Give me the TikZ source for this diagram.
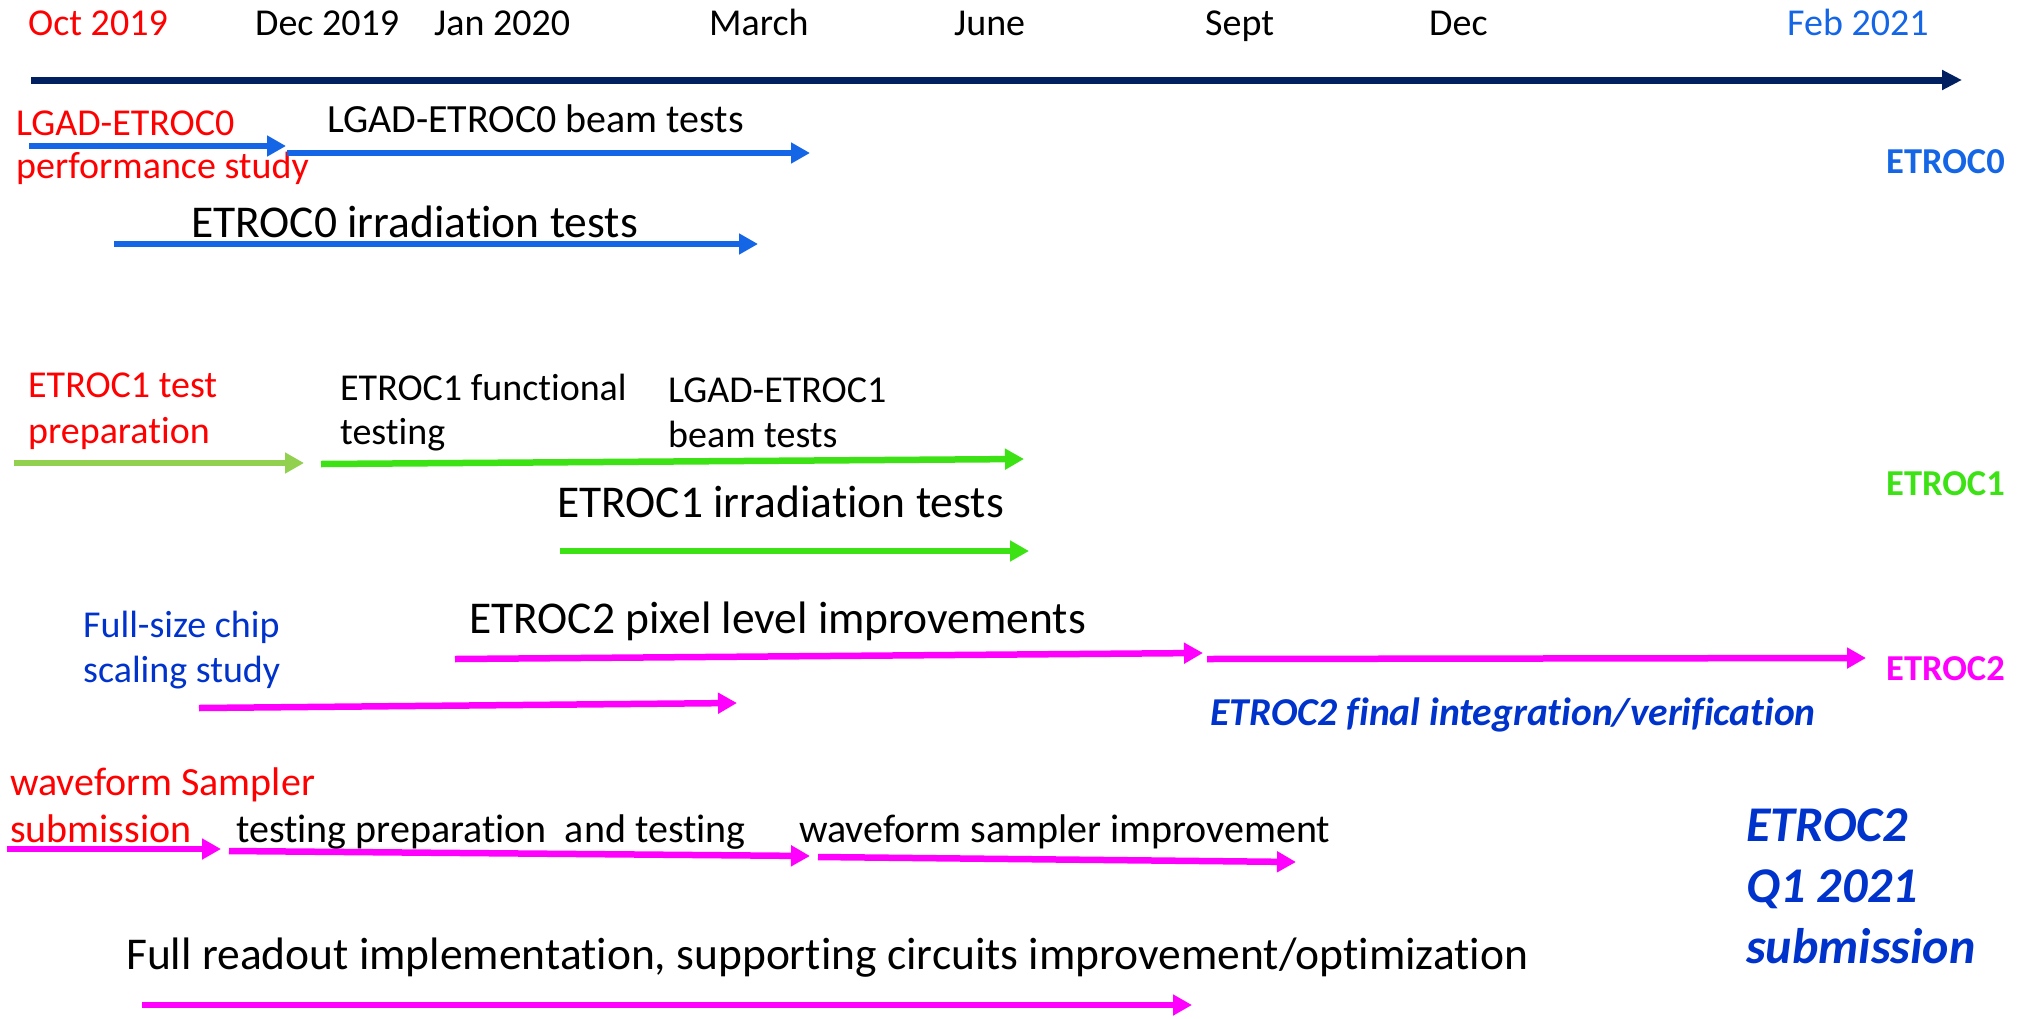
\documentclass[tikz,border=0pt]{standalone}
\usepackage{fontspec}
\setmainfont{Carlito}[Ligatures=NoCommon]
\usetikzlibrary{arrows.meta}
\definecolor{navy}{RGB}{0,32,96}
\definecolor{ablue}{RGB}{20,102,230}
\definecolor{lblue}{RGB}{0,51,204}
\definecolor{agreen}{RGB}{60,226,20}
\definecolor{lgreen}{RGB}{146,208,80}
\definecolor{lred}{RGB}{255,0,0}
\definecolor{mag}{RGB}{255,0,255}
\tikzset{
  lbl/.style={anchor=base west, inner sep=0pt, font=\fontsize{38}{46}\selectfont},
  lblw/.style={anchor=base west, inner sep=0pt, font=\fontsize{40}{48}\selectfont},
  big/.style={anchor=base west, inner sep=0pt, font=\fontsize{45.5}{54}\selectfont},
  tag/.style={anchor=base west, inner sep=0pt, font=\fontsize{36.5}{44}\selectfont\bfseries},
  bar/.style={line width=6.5pt, -{Triangle[length=19pt,width=20pt]}},
}
\begin{document}
\begin{tikzpicture}[x=1pt,y=-1pt]
\useasboundingbox (0,0) rectangle (2030,1018);
% timeline
\node[lbl, text=lred] (m1) at (28,35) {Oct 2019};
\node[lbl] (m2) at (255,35) {Dec 2019};
\node[lbl] (m3) at (434,35) {Jan 2020};
\node[lbl] (m4) at (709,35) {March};
\node[lbl] (m5) at (954,35) {June};
\node[lbl] (m6) at (1205,35) {Sept};
\node[lbl] (m7) at (1429,35) {Dec};
\node[lbl, text=ablue] (m8) at (1787,35) {Feb 2021};
\coordinate (t0) at (31,80);
\coordinate (t1) at (1962,80);
\draw[navy, line width=7pt, -{Triangle[length=20pt,width=19pt]}] (t0) -- (t1);

% ETROC0
\node[lbl, text=lred] (a1) at (16,135) {LGAD-ETROC0};
\node[lbl, text=lred] (a2) at (16,178) {performance study};
\node[lblw] (a3) at (327,132) {LGAD-ETROC0 beam tests};
\node[big] (a4) at (191,237) {ETROC0 irradiation tests};
\node[tag, text=ablue] (a5) at (1886,173) {ETROC0};
\coordinate (a1s) at (29,146); \coordinate (a1e) at (286,146);
\coordinate (a2s) at (287,153); \coordinate (a2e) at (810,153);
\coordinate (a3s) at (114,244); \coordinate (a3e) at (758,244);
\draw[bar, ablue] (a1s) -- (a1e);
\draw[bar, ablue] (a2s) -- (a2e);
\draw[bar, ablue] (a3s) -- (a3e);

% ETROC1
\node[lbl, text=lred] (b1) at (28,397) {ETROC1 test};
\node[lbl, text=lred] (b2) at (28,443) {preparation};
\node[lbl] (b3) at (340,400) {ETROC1 functional};
\node[lbl] (b4) at (340,444) {testing};
\node[lbl] (b5) at (668,402) {LGAD-ETROC1};
\node[lbl] (b6) at (668,447) {beam tests};
\node[big] (b7) at (557,517) {ETROC1 irradiation tests};
\node[tag, text=agreen] (b8) at (1886,495) {ETROC1};
\coordinate (b1s) at (14,463); \coordinate (b1e) at (304,463);
\coordinate (b2s) at (321,464); \coordinate (b2e) at (1024,459);
\coordinate (b3s) at (560,551); \coordinate (b3e) at (1029,551);
\draw[bar, lgreen] (b1s) -- (b1e);
\draw[bar, agreen] (b2s) -- (b2e);
\draw[bar, agreen] (b3s) -- (b3e);

% ETROC2
\node[lbl, text=lblue] (c1) at (83,637) {Full-size chip};
\node[lbl, text=lblue] (c2) at (83,682) {scaling study};
\node[big] (c3) at (469,633) {ETROC2 pixel level improvements};
\node[tag, text=mag] (c4) at (1886,680) {ETROC2};
\node[lbl, font=\fontsize{39.5}{46}\selectfont\bfseries\itshape, text=lblue] (c5) at (1210,725) {ETROC2 final integration/verification};
\coordinate (c1s) at (455,659); \coordinate (c1e) at (1203,653);
\coordinate (c2s) at (1207,659); \coordinate (c2e) at (1866,658);
\coordinate (c3s) at (199,708); \coordinate (c3e) at (737,703);
\draw[bar, mag] (c1s) -- (c1e);
\draw[bar, mag] (c2s) -- (c2e);
\draw[bar, mag] (c3s) -- (c3e);

% waveform sampler
\node[lblw, text=lred] (d1) at (10,795) {waveform Sampler};
\node[lblw, text=lred] (d2) at (10,842) {submission};
\node[lblw] (d3) at (236,842) {testing preparation\ \ and testing};
\node[lblw] (d4) at (799,842) {waveform sampler improvement};
\node[big] (d5) at (126,969) {Full readout implementation, supporting circuits improvement/optimization};
\node[anchor=base west, inner sep=0pt, align=left, text=lblue,
      font=\fontsize{50}{61}\selectfont\bfseries\itshape] (d6) at (1746,963)
      {ETROC2\\Q1 2021\\submission};
\coordinate (d1s) at (7,849); \coordinate (d1e) at (221,849);
\coordinate (d2s) at (229,851); \coordinate (d2e) at (810,856);
\coordinate (d3s) at (818,857); \coordinate (d3e) at (1296,862);
\coordinate (d4s) at (142,1005); \coordinate (d4e) at (1192,1005);
\draw[bar, mag] (d1s) -- (d1e);
\draw[bar, mag] (d2s) -- (d2e);
\draw[bar, mag] (d3s) -- (d3e);
\draw[bar, mag] (d4s) -- (d4e);
\end{tikzpicture}
\end{document}
